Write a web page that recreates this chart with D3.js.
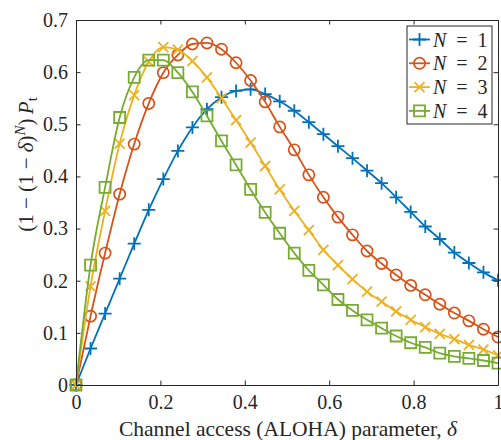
<!DOCTYPE html>
<html>
<head>
<meta charset="utf-8">
<script src="https://cdn.jsdelivr.net/npm/d3@7/dist/d3.min.js"></script>
<style>
html,body{margin:0;padding:0;background:#fff;}
svg{display:block;}
</style>
</head>
<body>
<svg id="chart" width="501" height="440"></svg>
<script>
// ---- data ----
const deltaCount = 30; // markers at delta = i/29
const deltas = d3.range(deltaCount).map(i => i / (deltaCount - 1));
const seriesNames = ["N = 1", "N = 2", "N = 3", "N = 4"];
const valuesN1 = [0, 0.070, 0.137, 0.204, 0.271, 0.336, 0.395, 0.449, 0.494, 0.529, 0.552, 0.564, 0.567, 0.558, 0.544, 0.526, 0.504, 0.481, 0.458, 0.435, 0.411, 0.387, 0.360, 0.332, 0.304, 0.280, 0.254, 0.234, 0.216, 0.201];
const valuesN2 = [0, 0.132, 0.253, 0.366, 0.462, 0.540, 0.599, 0.633, 0.654, 0.656, 0.644, 0.618, 0.584, 0.543, 0.495, 0.451, 0.403, 0.360, 0.322, 0.288, 0.257, 0.233, 0.211, 0.191, 0.173, 0.155, 0.138, 0.123, 0.107, 0.092];
const valuesN3 = [0, 0.189, 0.334, 0.463, 0.556, 0.620, 0.648, 0.643, 0.621, 0.590, 0.550, 0.508, 0.465, 0.420, 0.375, 0.334, 0.297, 0.259, 0.230, 0.203, 0.179, 0.160, 0.141, 0.125, 0.111, 0.098, 0.088, 0.077, 0.068, 0.057];
const valuesN4 = [0, 0.230, 0.379, 0.513, 0.590, 0.623, 0.623, 0.599, 0.562, 0.516, 0.468, 0.422, 0.375, 0.331, 0.291, 0.253, 0.220, 0.192, 0.164, 0.143, 0.125, 0.109, 0.094, 0.081, 0.072, 0.061, 0.055, 0.051, 0.047, 0.042];
const xTicks = [0, 0.2, 0.4, 0.6, 0.8, 1];
const xTickLabels = ["0", "0.2", "0.4", "0.6", "0.8", "1"];
const yTicks = [0, 0.1, 0.2, 0.3, 0.4, 0.5, 0.6, 0.7];
const yTickLabels = ["0", "0.1", "0.2", "0.3", "0.4", "0.5", "0.6", "0.7"];

// ---- styles ----
const colors = ["#0072BD", "#D95319", "#EDB120", "#77AC30"];
const markers = ["plus", "circle", "cross", "square"];
const allValues = [valuesN1, valuesN2, valuesN3, valuesN4];
const FONT = '"Liberation Serif", "DejaVu Serif", "Times New Roman", serif';

const svg = d3.select("#chart");
const L = 76, R = 498, T = 20, B = 385;
const x = d3.scaleLinear().domain([0, 1]).range([L, R]);
const y = d3.scaleLinear().domain([0, 0.7]).range([B, T]);
const axisColor = "#262626";
const fs = 20;

function markerPath(kind) {
  switch (kind) {
    case "plus": return "M-6.5,0H6.5M0,-6.5V6.5";
    case "cross": return "M-5,-5L5,5M-5,5L5,-5";
    case "square": return "M-5.5,-5.5H5.5V5.5H-5.5Z";
    default: return null;
  }
}
function drawMarker(g, kind, color) {
  if (kind === "circle") {
    g.append("circle").attr("r", 5.6).attr("fill", "none").attr("stroke", color).attr("stroke-width", 1.7);
  } else {
    g.append("path").attr("d", markerPath(kind)).attr("fill", "none").attr("stroke", color).attr("stroke-width", 1.8);
  }
}

// series
const line = d3.line().x(d => x(d[0])).y(d => y(d[1])).curve(d3.curveMonotoneX);
allValues.forEach((vals, si) => {
  const pts = deltas.map((dv, i) => [dv, vals[i]]);
  const g = svg.append("g");
  g.append("path").attr("d", line(pts)).attr("fill", "none")
    .attr("stroke", colors[si]).attr("stroke-width", 1.8);
  pts.forEach(p => {
    const mg = g.append("g").attr("transform", `translate(${x(p[0])},${y(p[1])})`);
    drawMarker(mg, markers[si], colors[si]);
  });
});

// axes
const tickLen = 4.5;
const xAxisB = d3.axisBottom(x).tickValues(xTicks).tickFormat((d, i) => xTickLabels[i]).tickSizeInner(-tickLen).tickSizeOuter(0).tickPadding(10);
const xAxisT = d3.axisTop(x).tickValues(xTicks).tickFormat("").tickSizeInner(-tickLen).tickSizeOuter(0);
const yAxisL = d3.axisLeft(y).tickValues(yTicks).tickFormat((d, i) => yTickLabels[i]).tickSizeInner(-tickLen).tickSizeOuter(0).tickPadding(8);
const yAxisR = d3.axisRight(y).tickValues(yTicks).tickFormat("").tickSizeInner(-tickLen).tickSizeOuter(0);

function styleAxis(g) {
  g.attr("font-family", FONT).attr("font-size", fs);
  g.selectAll(".domain").attr("stroke", axisColor).attr("stroke-width", 1);
  g.selectAll(".tick line").attr("stroke", axisColor).attr("stroke-width", 1);
  g.selectAll(".tick text").attr("fill", axisColor);
}
svg.append("g").attr("transform", `translate(0,${B})`).call(xAxisB).call(styleAxis);
svg.append("g").attr("transform", `translate(0,${T})`).call(xAxisT).call(styleAxis);
svg.append("g").attr("transform", `translate(${L},0)`).call(yAxisL).call(styleAxis);
svg.append("g").attr("transform", `translate(${R},0)`).call(yAxisR).call(styleAxis);

// x label
const xl = svg.append("text").attr("x", (L + R) / 2 + 1).attr("y", 436).attr("text-anchor", "middle")
  .attr("font-family", FONT).attr("font-size", 21.5).attr("fill", axisColor);
xl.append("tspan").text("Channel access (ALOHA) parameter, ");
xl.append("tspan").attr("font-style", "italic").text("δ");

// y label
const yl = svg.append("text").attr("transform", `translate(33,${(T + B) / 2 - 38}) rotate(-90)`)
  .attr("text-anchor", "middle").attr("font-family", FONT).attr("font-size", 21).attr("fill", axisColor);
yl.append("tspan").text("(1 − (1 − ");
yl.append("tspan").attr("font-style", "italic").text("δ");
yl.append("tspan").text(")");
yl.append("tspan").attr("font-style", "italic").attr("dy", -8).attr("font-size", 15).text("N");
yl.append("tspan").attr("dy", 8).text(")\u2009");
yl.append("tspan").attr("font-style", "italic").text("P");
yl.append("tspan").attr("dy", 4).attr("font-size", 15).text("t");

// legend
const lg = svg.append("g");
lg.append("rect").attr("x", 407).attr("y", 26).attr("width", 85).attr("height", 98)
  .attr("fill", "#fff").attr("stroke", axisColor).attr("stroke-width", 1);
seriesNames.forEach((name, i) => {
  const cy = 39.5 + i * 23.8;
  lg.append("line").attr("x1", 409).attr("x2", 430).attr("y1", cy).attr("y2", cy)
    .attr("stroke", colors[i]).attr("stroke-width", 1.8);
  const mg = lg.append("g").attr("transform", `translate(419.5,${cy})`);
  drawMarker(mg, markers[i], colors[i]);
  const parts = name.split(" ");
  const t = lg.append("text").attr("x", 433).attr("y", cy + 7)
    .attr("font-family", FONT).attr("font-size", fs).attr("fill", axisColor);
  t.append("tspan").attr("font-style", "italic").text(parts[0]);
  t.append("tspan").text("\u2002" + parts[1] + "\u2002" + parts[2]);
});
</script>
</body>
</html>
